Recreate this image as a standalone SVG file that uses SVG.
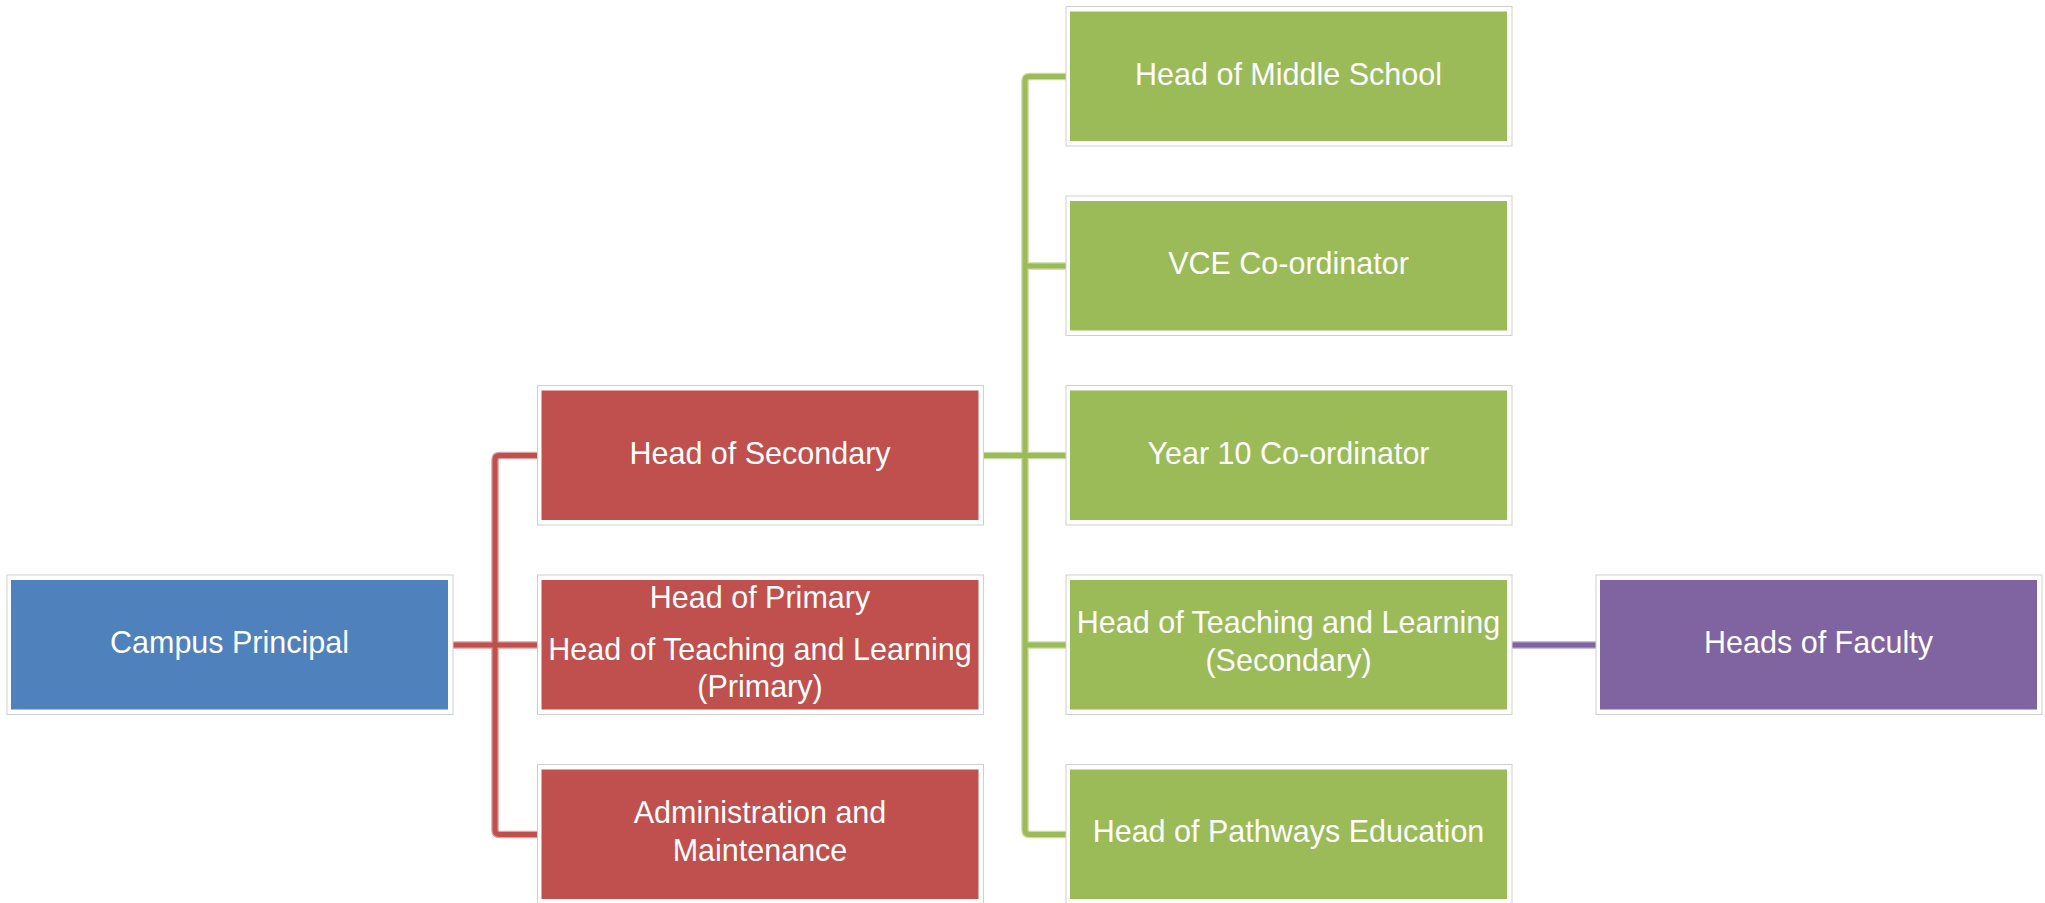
<svg xmlns="http://www.w3.org/2000/svg" width="2045" height="903" viewBox="0 0 2045 903">
<style>
.frame{fill:#ffffff;stroke:#cfcfcf;stroke-width:1}
.blue{fill:#4F81BD}
.red{fill:#C0504D}
.green{fill:#9BBB59}
.purple{fill:#8064A2}
.t{font-family:"Liberation Sans",Arial,sans-serif;font-size:30.5px;fill:#ffffff;text-anchor:middle}
.halo{fill:none;stroke-width:7.5;stroke-linejoin:round}
.core{fill:none;stroke-width:5;stroke-linejoin:round}
</style>
<rect width="2045" height="903" fill="#ffffff"/>
<g id="connectors">
  <g id="red-conn">
    <path class="halo" stroke="#dca3a1" d="M537 455.5 H499.5 Q495 455.5 495 460 V830 Q495 834.5 499.5 834.5 H537 M453 645 H537"/>
    <path class="core" stroke="#C0504D" d="M537 455.5 H499.5 Q495 455.5 495 460 V830 Q495 834.5 499.5 834.5 H537 M453 645 H537"/>
  </g>
  <g id="green-conn">
    <path class="halo" stroke="#c9dba5" d="M1066 76.5 H1029.5 Q1025 76.5 1025 81 V830 Q1025 834.5 1029.5 834.5 H1066 M1025 266 H1066 M983 455.5 H1066 M1025 645 H1066"/>
    <path class="core" stroke="#9BBB59" d="M1066 76.5 H1029.5 Q1025 76.5 1025 81 V830 Q1025 834.5 1029.5 834.5 H1066 M1025 266 H1066 M983 455.5 H1066 M1025 645 H1066"/>
  </g>
  <g id="purple-conn">
    <path class="halo" stroke="#b9a9cf" d="M1512 645 H1596"/>
    <path class="core" stroke="#8064A2" d="M1512 645 H1596"/>
  </g>
</g>
<g id="campus-principal">
  <rect class="frame" x="7" y="575" width="446" height="139.5"/>
  <rect class="blue" x="11" y="580" width="437" height="129.5"/>
  <text class="t" x="229.5" y="653">Campus Principal</text>
</g>
<g id="head-of-secondary">
  <rect class="frame" x="537.5" y="385.5" width="446" height="139.5"/>
  <rect class="red" x="541.5" y="390.5" width="437" height="129.5"/>
  <text class="t" x="760" y="463.5">Head of Secondary</text>
</g>
<g id="head-of-primary">
  <rect class="frame" x="537.5" y="575" width="446" height="139.5"/>
  <rect class="red" x="541.5" y="580" width="437" height="129.5"/>
  <text class="t" x="760" y="608">Head of Primary</text>
  <text class="t" x="760" y="660">Head of Teaching and Learning</text>
  <text class="t" x="760" y="697">(Primary)</text>
</g>
<g id="administration">
  <rect class="frame" x="537.5" y="764.5" width="446" height="139.5"/>
  <rect class="red" x="541.5" y="769.5" width="437" height="129.5"/>
  <text class="t" x="760" y="823">Administration and</text>
  <text class="t" x="760" y="861">Maintenance</text>
</g>
<g id="head-of-middle-school">
  <rect class="frame" x="1066" y="6.5" width="446" height="139.5"/>
  <rect class="green" x="1070" y="11.5" width="437" height="129.5"/>
  <text class="t" x="1288.5" y="84.5">Head of Middle School</text>
</g>
<g id="vce-coordinator">
  <rect class="frame" x="1066" y="196" width="446" height="139.5"/>
  <rect class="green" x="1070" y="201" width="437" height="129.5"/>
  <text class="t" x="1288.5" y="274">VCE Co-ordinator</text>
</g>
<g id="year10-coordinator">
  <rect class="frame" x="1066" y="385.5" width="446" height="139.5"/>
  <rect class="green" x="1070" y="390.5" width="437" height="129.5"/>
  <text class="t" x="1288.5" y="463.5">Year 10 Co-ordinator</text>
</g>
<g id="head-tl-secondary">
  <rect class="frame" x="1066" y="575" width="446" height="139.5"/>
  <rect class="green" x="1070" y="580" width="437" height="129.5"/>
  <text class="t" x="1288.5" y="633">Head of Teaching and Learning</text>
  <text class="t" x="1288.5" y="671">(Secondary)</text>
</g>
<g id="head-of-pathways">
  <rect class="frame" x="1066" y="764.5" width="446" height="139.5"/>
  <rect class="green" x="1070" y="769.5" width="437" height="129.5"/>
  <text class="t" x="1288.5" y="842">Head of Pathways Education</text>
</g>
<g id="heads-of-faculty">
  <rect class="frame" x="1596" y="575" width="446" height="139.5"/>
  <rect class="purple" x="1600" y="580" width="437" height="129.5"/>
  <text class="t" x="1818.5" y="653">Heads of Faculty</text>
</g>
</svg>
